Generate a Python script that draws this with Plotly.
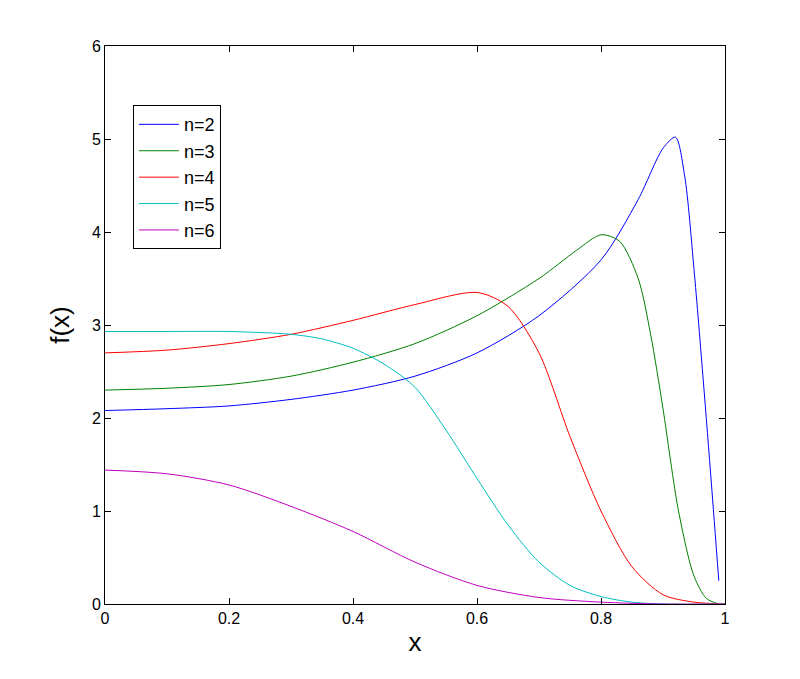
import plotly.graph_objects as go

x2 = [0, 0.1, 0.2, 0.3, 0.4, 0.5, 0.6, 0.7, 0.8, 0.86, 0.9, 0.92, 0.935, 0.95, 0.965, 0.978, 0.99]
y2 = [2.08, 2.1, 2.13, 2.2, 2.3, 2.45, 2.7, 3.1, 3.7, 4.35, 4.9, 5.02, 4.6, 3.6, 2.4, 1.3, 0.25]

x3 = [0, 0.1, 0.2, 0.3, 0.4, 0.5, 0.6, 0.7, 0.76, 0.8, 0.83, 0.86, 0.88, 0.9, 0.925, 0.95, 0.97, 0.99]
y3 = [2.3, 2.32, 2.36, 2.45, 2.6, 2.8, 3.1, 3.5, 3.8, 3.97, 3.9, 3.5, 2.9, 2.1, 1.0, 0.3, 0.06, 0]

x4 = [0, 0.1, 0.2, 0.3, 0.4, 0.5, 0.6, 0.65, 0.7, 0.75, 0.8, 0.85, 0.9, 0.95, 1.0]
y4 = [2.7, 2.73, 2.8, 2.9, 3.05, 3.22, 3.35, 3.2, 2.7, 1.8, 1.0, 0.4, 0.1, 0.02, 0]

x5 = [0, 0.1, 0.2, 0.3, 0.35, 0.4, 0.45, 0.5, 0.55, 0.6, 0.65, 0.7, 0.75, 0.8, 0.85, 0.9, 1.0]
y5 = [2.93, 2.93, 2.93, 2.9, 2.85, 2.75, 2.58, 2.33, 1.87, 1.35, 0.85, 0.45, 0.2, 0.08, 0.02, 0, 0]

x6 = [0, 0.1, 0.2, 0.3, 0.4, 0.5, 0.6, 0.7, 0.8, 0.9, 1.0]
y6 = [1.44, 1.4, 1.28, 1.05, 0.78, 0.45, 0.2, 0.07, 0.02, 0, 0]

names = ["n=2", "n=3", "n=4", "n=5", "n=6"]
colors = ["#0000ff", "#008000", "#ff0000", "#00bfbf", "#bf00bf"]

fig = go.Figure()
for xs, ys, nm, c in zip([x2, x3, x4, x5, x6], [y2, y3, y4, y5, y6], names, colors):
    fig.add_trace(go.Scatter(x=xs, y=ys, name=nm, mode="lines",
                             line=dict(color=c, width=1, shape="spline", smoothing=0.8)))

axis = dict(showline=True, mirror="ticks", linecolor="black", linewidth=1,
            ticks="inside", ticklen=6, tickcolor="black", showgrid=False, zeroline=False,
            tickfont=dict(size=16, color="black"))
fig.update_layout(
    width=800, height=679,
    plot_bgcolor="white", paper_bgcolor="white",
    font=dict(family="Liberation Sans, Arial", color="black"),
    margin=dict(l=97, r=83, t=38, b=83),
    xaxis=dict(axis, range=[0, 1], dtick=0.2, tickformat="~g",
               title=dict(text="x", font=dict(size=26), standoff=6)),
    yaxis=dict(axis, range=[0, 6], dtick=1,
               title=dict(text="f(x)", font=dict(size=26), standoff=14)),
    legend=dict(x=0.045, y=0.894, xanchor="left", yanchor="top",
                bordercolor="black", borderwidth=1, bgcolor="white",
                font=dict(size=18), itemwidth=40, tracegroupgap=0),
)
fig.write_html("out.html")
